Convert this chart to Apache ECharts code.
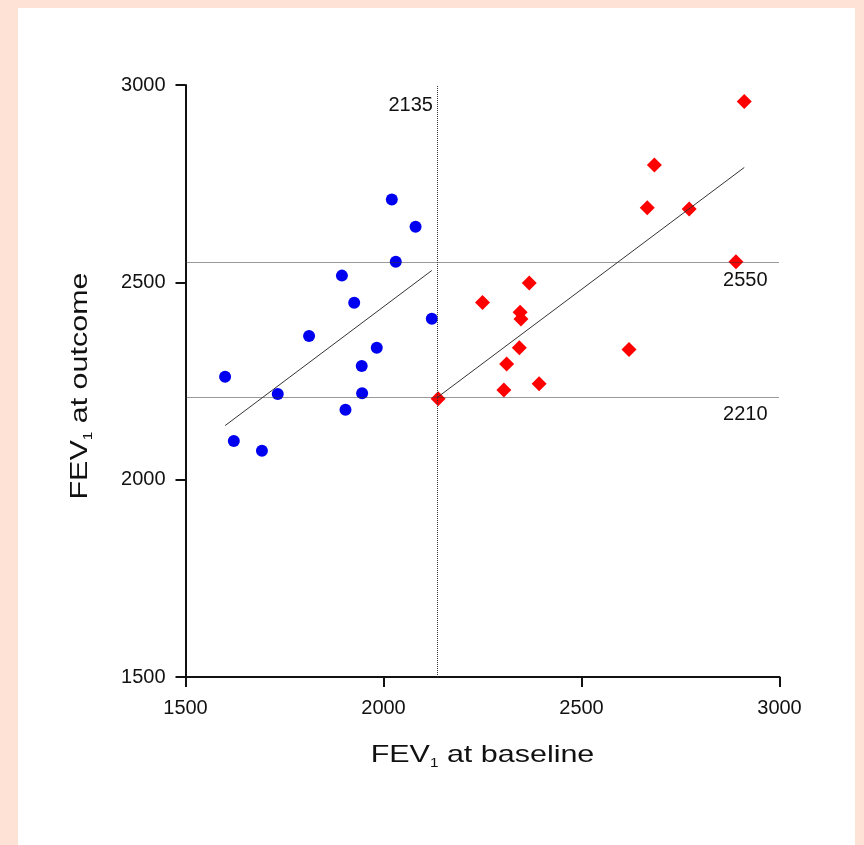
<!DOCTYPE html>
<html>
<head>
<meta charset="utf-8">
<script src="https://cdn.jsdelivr.net/npm/echarts@6/dist/echarts.min.js"></script>
<style>
  html, body { margin: 0; padding: 0; background: #fde2d5; }
  #panel { position: absolute; left: 18px; top: 8px; width: 837px; height: 837px; background: #ffffff; }
  #chart { position: absolute; left: 0; top: 0; width: 864px; height: 845px; }
</style>
</head>
<body>
<div id="panel"></div>
<div id="chart"></div>
<script>
// FEV1 at baseline vs FEV1 at outcome, two groups with their fitted lines
const blueBaseline = [1600, 1622, 1693, 1733, 1812, 1895, 1926, 1904, 1945, 1946, 1983, 2031, 2122, 2021, 2081];
const blueOutcome  = [2261, 2098, 2073, 2217, 2364, 2517, 2448, 2177, 2288, 2219, 2334, 2552, 2408, 2710, 2641];
const redBaseline  = [2911, 2684, 2666, 2772, 2890, 2368, 2250, 2345, 2347, 2343, 2311, 2304, 2393, 2620, 2138];
const redOutcome   = [2958, 2797, 2689, 2686, 2552, 2498, 2449, 2424, 2407, 2334, 2293, 2227, 2243, 2330, 2205];

// fitted line end points
const blueFitX = [1600, 2122];
const blueFitY = [2137, 2530];
const redFitX  = [2138, 2911];
const redFitY  = [2210, 2791];

// cut-off reference values
const cutBaseline = [2135];
const cutOutcome  = [2550, 2210];

// axis ticks
const xTicks = [1500, 2000, 2500, 3000];
const yTicks = [1500, 2000, 2500, 3000];

const zip = (a, b) => a.map((v, i) => [v, b[i]]);
const FONT = 'Liberation Sans, Arial, sans-serif';
const INK = '#111';

const titleRich = {
  m: { fontFamily: FONT, fontSize: 24, lineHeight: 30, verticalAlign: 'top', fill: INK },
  s: { fontFamily: FONT, fontSize: 12, lineHeight: 30, verticalAlign: 'top', padding: [14, 0, 0, 0], fill: INK }
};

const chart = echarts.init(document.getElementById('chart'), null, { renderer: 'canvas' });

const axisCommon = {
  type: 'value',
  interval: 500,
  splitLine: { show: false },
  axisLine: { show: true, lineStyle: { color: INK, width: 2 } },
  axisTick: { show: true, length: 10, lineStyle: { color: INK, width: 2 } },
  axisLabel: { fontFamily: FONT, fontSize: 20, color: INK, formatter: v => String(v) }
};

const cutLabel = (text, distance, dy) => ({
  show: true, position: 'left', distance: distance, offset: [0, dy],
  fontFamily: FONT, fontSize: 20, color: INK, opacity: 1, formatter: String(text)
});

chart.setOption({
  animation: false,
  backgroundColor: 'transparent',
  grid: { left: 185.5, right: 84.5, top: 85, bottom: 168, containLabel: false },
  xAxis: Object.assign({}, axisCommon, {
    min: xTicks[0], max: xTicks[xTicks.length - 1],
    axisLabel: Object.assign({}, axisCommon.axisLabel, { margin: 21 })
  }),
  yAxis: Object.assign({}, axisCommon, {
    min: yTicks[0], max: yTicks[yTicks.length - 1],
    axisLabel: Object.assign({}, axisCommon.axisLabel, { margin: 20 })
  }),
  graphic: [
    {
      type: 'text', x: 482.5, y: 743.6, scaleX: 1.27,
      style: {
        text: '{m|FEV}{s|1}{m| at baseline}',
        rich: titleRich, align: 'center', verticalAlign: 'top'
      }
    },
    {
      type: 'text', x: 68.6, y: 386, scaleX: 1.27, rotation: Math.PI / 2,
      style: {
        text: '{m|FEV}{s|1}{m| at outcome}',
        rich: titleRich, align: 'center', verticalAlign: 'top'
      }
    }
  ],
  series: [
    {
      name: 'cut-offs',
      type: 'scatter',
      data: [],
      silent: true,
      markLine: {
        silent: true,
        symbol: ['none', 'none'],
        label: { show: false },
        lineStyle: { color: '#333', width: 1, type: [1, 1], opacity: 1 },
        data: cutBaseline.map(v => ({ xAxis: v })).concat(cutOutcome.map(v => ({ yAxis: v })))
      }
    },
    {
      name: 'cut-off labels',
      type: 'scatter',
      symbolSize: 0,
      silent: true,
      itemStyle: { color: INK, opacity: 0 },
      data: cutBaseline.map(v => ({ value: [v, yTicks[yTicks.length - 1]], label: cutLabel(v, 4, 20) }))
        .concat(cutOutcome.map(v => ({ value: [xTicks[xTicks.length - 1], v], label: cutLabel(v, 12, 17.5) })))
    },
    {
      name: 'blue fit', type: 'line', data: zip(blueFitX, blueFitY),
      symbol: 'none', silent: true, lineStyle: { color: '#333', width: 1 }
    },
    {
      name: 'red fit', type: 'line', data: zip(redFitX, redFitY),
      symbol: 'none', silent: true, lineStyle: { color: '#333', width: 1 }
    },
    {
      name: 'group A', type: 'scatter', data: zip(blueBaseline, blueOutcome),
      symbol: 'circle', symbolSize: 12, itemStyle: { color: '#0000f0', opacity: 1 }
    },
    {
      name: 'group B', type: 'scatter', data: zip(redBaseline, redOutcome),
      symbol: 'diamond', symbolSize: 15, itemStyle: { color: '#ff0000', opacity: 1 }
    }
  ]
});
</script>
</body>
</html>
